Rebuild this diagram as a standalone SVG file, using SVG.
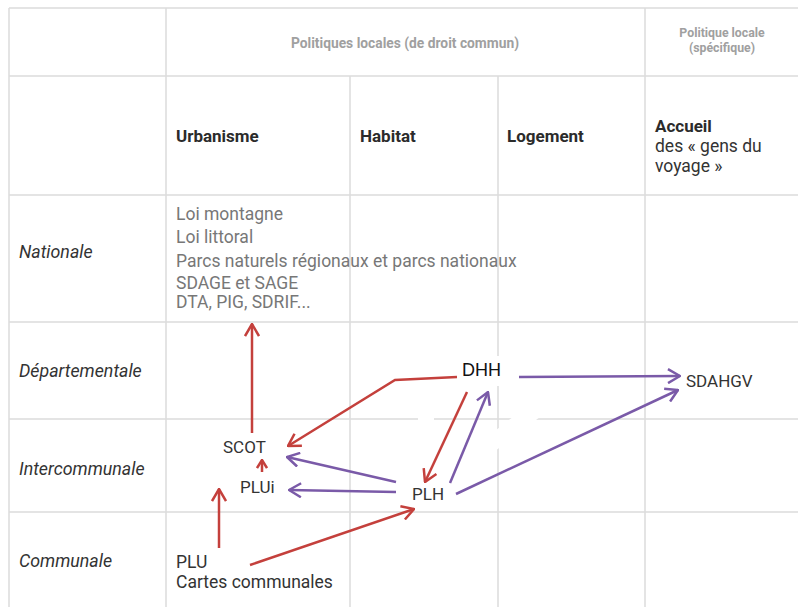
<svg xmlns="http://www.w3.org/2000/svg" width="798" height="607" viewBox="0 0 798 607">
<style>
.grid{stroke:#dcdcdc;stroke-width:1.5;fill:none}
.t{font-family:Roboto,"Liberation Sans",sans-serif}
.hd{font-size:13.8px;font-weight:bold;fill:#a0a0a0}
.hd2{font-size:12.3px;font-weight:bold;fill:#a0a0a0}
.col{font-size:17px;font-weight:bold;fill:#2b2b2b}
.row{font-size:17.8px;font-style:italic;fill:#333}
.nat{font-size:17.5px;fill:#777}
.node{font-size:17px;fill:#333}
.red{stroke:#c4403c;stroke-width:2.5;fill:none;marker-end:url(#ar)}
.pur{stroke:#7a5aa8;stroke-width:2.5;fill:none;marker-end:url(#ap)}
</style>
<defs>
<marker id="ar" viewBox="0 0 14 16" refX="13" refY="8" markerWidth="14" markerHeight="16" markerUnits="userSpaceOnUse" orient="auto"><path d="M1,1 L13,8 L1,15" stroke="#c4403c" stroke-width="2.5" fill="none"/></marker>
<marker id="ap" viewBox="0 0 14 16" refX="13" refY="8" markerWidth="14" markerHeight="16" markerUnits="userSpaceOnUse" orient="auto"><path d="M1,1 L13,8 L1,15" stroke="#7a5aa8" stroke-width="2.5" fill="none"/></marker>
<marker id="ars" viewBox="0 0 10 12" refX="9" refY="6" markerWidth="10" markerHeight="12" markerUnits="userSpaceOnUse" orient="auto"><path d="M1,1 L9,6 L1,11" stroke="#c4403c" stroke-width="2.5" fill="none"/></marker>
</defs>
<rect x="0" y="0" width="798" height="607" fill="#fff"/>
<g id="grid">
<path class="grid" d="M9,8 H798 M9,76 H798 M9,195 H798 M9,322 H798 M9,419 H798 M9,512 H798 M9,8 V607 M166,8 V607 M645,8 V607 M350,76 V607 M498,76 V607"/>
</g>
<g id="masks" fill="#fff">
<rect x="452" y="356" width="66" height="30"/>
<rect x="418" y="395" width="16" height="60"/>
<polygon points="455,462 545,392 565,398 470,470"/>
</g>
<g id="headers" class="t">
<text class="hd" x="405" y="48" text-anchor="middle">Politiques locales (de droit commun)</text>
<text class="hd2" x="722" y="37" text-anchor="middle">Politique locale</text>
<text class="hd2" x="722" y="52" text-anchor="middle">(spécifique)</text>
<text class="col" x="176" y="142">Urbanisme</text>
<text class="col" x="360" y="142">Habitat</text>
<text class="col" x="507" y="142">Logement</text>
<text class="col" x="655" y="132">Accueil</text>
<text x="655" y="152" style="font-size:17.5px;fill:#333">des « gens du</text>
<text x="655" y="172" style="font-size:17.5px;fill:#333">voyage »</text>
</g>
<g id="rows" class="t">
<text class="row" x="19" y="258">Nationale</text>
<text class="row" x="19" y="377">Départementale</text>
<text class="row" x="19" y="475">Intercommunale</text>
<text class="row" x="19" y="567">Communale</text>
</g>
<g id="nationale" class="t nat">
<text x="176" y="220">Loi montagne</text>
<text x="176" y="243">Loi littoral</text>
<text x="176" y="267">Parcs naturels régionaux et parcs nationaux</text>
<text x="176" y="289">SDAGE et SAGE</text>
<text x="176" y="308">DTA, PIG, SDRIF...</text>
</g>
<g id="connectors">
<path class="red" d="M252,433 V324"/>
<path d="M262,472 V460" stroke="#c4403c" stroke-width="2.5" fill="none" marker-end="url(#ars)"/>
<path class="red" d="M219,548 V489"/>
<path class="red" d="M250,565 L414,509"/>
<path class="red" d="M457,377 L395,380 L288,446"/>
<path class="red" d="M467,392 L425,482"/>
<path class="pur" d="M450,483 L488,392"/>
<path class="pur" d="M396,482 L287,457"/>
<path class="pur" d="M396,492 L289,490"/>
<path class="pur" d="M519,377 L680,376"/>
<path class="pur" d="M456,494 L678,390"/>
</g>
<g id="node-dhh"><text x="462" y="376" style="font-family:'Liberation Sans',Arial,sans-serif;font-size:18px;fill:#111">DHH</text></g>
<g id="node-sdahgv"><text class="t node" x="686" y="387">SDAHGV</text></g>
<g id="node-scot"><text class="t node" x="223" y="453">SCOT</text></g>
<g id="node-plui"><text class="t node" x="240" y="493">PLUi</text></g>
<g id="node-plh"><text class="t node" x="412" y="500">PLH</text></g>
<g id="node-plu" class="t nat" style="fill:#333">
<text x="176" y="568">PLU</text>
<text x="176" y="588">Cartes communales</text>
</g>
</svg>
